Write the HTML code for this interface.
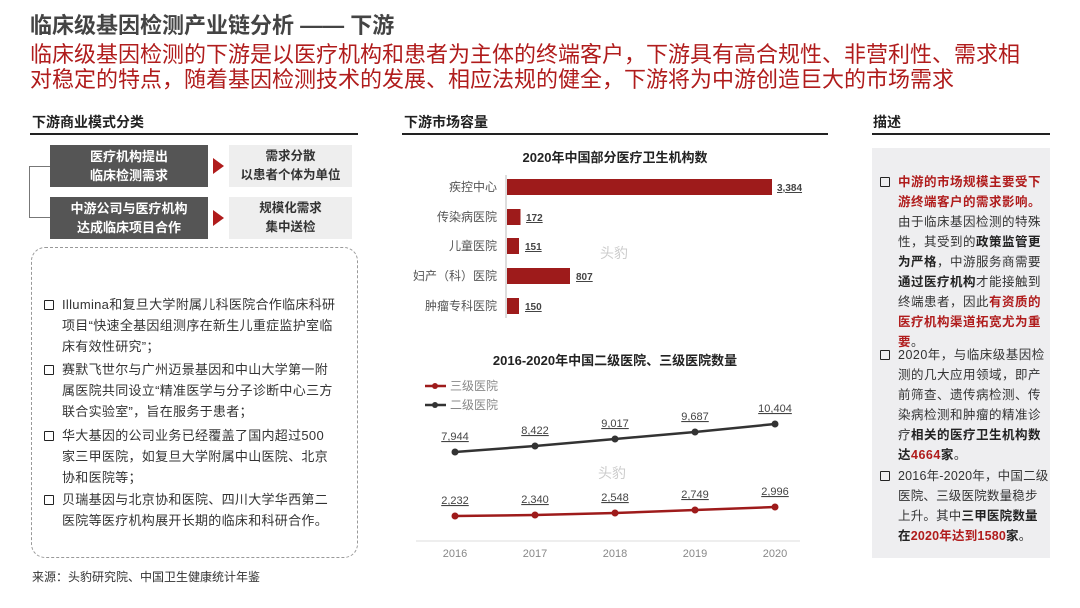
<!DOCTYPE html>
<html><head><meta charset="utf-8"><style>
*{margin:0;padding:0;box-sizing:border-box}
body{width:1080px;height:608px;background:#fff;font-family:"Liberation Sans","Noto Sans CJK SC",sans-serif;position:relative;overflow:hidden;color:#333}
.a{position:absolute}
.h{font-size:14px;font-weight:bold;color:#222}
.ul{height:2px;background:#222}
.dk{background:#555;color:#fff;font-size:13px;text-align:center;line-height:19px;padding-top:2px;font-weight:bold}
.lt{background:#eee;color:#333;font-size:12.5px;text-align:center;line-height:19px;padding-top:2px;font-weight:bold}
.arr{width:0;height:0;border-top:8px solid transparent;border-bottom:8px solid transparent;border-left:11px solid #b01c1c}
.bl{font-size:13px;line-height:21px;color:#333;padding-left:18px;position:absolute;letter-spacing:0.3px;white-space:nowrap}
.bl:before{content:"";position:absolute;left:0;top:6px;width:8px;height:8px;border:1.5px solid #222;border-radius:1px}
.rp{font-size:12.5px;letter-spacing:0.5px;line-height:20px}
.rp:before{top:5px}
.r{color:#b01c1c;font-weight:bold}
.b{font-weight:bold;color:#222}
</style></head><body>
<div class="a" style="left:30px;top:8px;font-size:22px;font-weight:bold;color:#444">临床级基因检测产业链分析 —— 下游</div>
<div class="a" style="left:30px;top:42px;width:1030px;font-size:22px;line-height:25px;color:#b01c1c;white-space:nowrap">临床级基因检测的下游是以医疗机构和患者为主体的终端客户，下游具有高合规性、非营利性、需求相<br>对稳定的特点，随着基因检测技术的发展、相应法规的健全，下游将为中游创造巨大的市场需求</div>

<div class="a h" style="left:32px;top:112px">下游商业模式分类</div>
<div class="a ul" style="left:30px;top:133px;width:328px"></div>
<div class="a h" style="left:404px;top:112px">下游市场容量</div>
<div class="a ul" style="left:402px;top:133px;width:426px"></div>
<div class="a h" style="left:873px;top:112px">描述</div>
<div class="a ul" style="left:872px;top:133px;width:178px"></div>

<div class="a" style="left:29px;top:166px;width:21px;height:52px;border:1.5px solid #777;border-right:none"></div>
<div class="a dk" style="left:50px;top:145px;width:158px;height:42px">医疗机构提出<br>临床检测需求</div>
<div class="a arr" style="left:213px;top:158px"></div>
<div class="a lt" style="left:229px;top:145px;width:123px;height:42px">需求分散<br>以患者个体为单位</div>
<div class="a dk" style="left:50px;top:197px;width:158px;height:42px">中游公司与医疗机构<br>达成临床项目合作</div>
<div class="a arr" style="left:213px;top:210px"></div>
<div class="a lt" style="left:229px;top:197px;width:123px;height:42px">规模化需求<br>集中送检</div>

<div class="a" style="left:31px;top:247px;width:327px;height:311px;border:1.5px dashed #999;border-radius:14px"></div>
<div class="bl" style="left:44px;top:294px">Illumina和复旦大学附属儿科医院合作临床科研<br>项目“快速全基因组测序在新生儿重症监护室临<br>床有效性研究”；</div>
<div class="bl" style="left:44px;top:359px">赛默飞世尔与广州迈景基因和中山大学第一附<br>属医院共同设立“精准医学与分子诊断中心三方<br>联合实验室”，旨在服务于患者；</div>
<div class="bl" style="left:44px;top:425px">华大基因的公司业务已经覆盖了国内超过500<br>家三甲医院，如复旦大学附属中山医院、北京<br>协和医院等；</div>
<div class="bl" style="left:44px;top:489px">贝瑞基因与北京协和医院、四川大学华西第二<br>医院等医疗机构展开长期的临床和科研合作。</div>
<div class="a" style="left:32px;top:568px;font-size:12px;color:#333">来源：头豹研究院、中国卫生健康统计年鉴</div>

<svg class="a" style="left:0;top:0" width="1080" height="608" font-family="Liberation Sans,Noto Sans CJK SC,sans-serif">
<text x="615" y="162" font-size="13" font-weight="bold" text-anchor="middle" fill="#222">2020年中国部分医疗卫生机构数</text>
<g font-size="12" fill="#555" text-anchor="end">
<text x="497" y="191">疾控中心</text><text x="497" y="221">传染病医院</text><text x="497" y="250">儿童医院</text><text x="497" y="280">妇产（科）医院</text><text x="497" y="310">肿瘤专科医院</text></g>
<line x1="506" y1="175" x2="506" y2="318" stroke="#bbb"/>
<g fill="#9e1b1b">
<rect x="507" y="179" width="265" height="16"/><rect x="507" y="209" width="13.5" height="16"/><rect x="507" y="238" width="12" height="16"/><rect x="507" y="268" width="63" height="16"/><rect x="507" y="298" width="12" height="16"/></g>
<g font-size="10" font-weight="bold" fill="#444" text-decoration="underline">
<text x="777" y="191">3,384</text><text x="526" y="221">172</text><text x="525" y="250">151</text><text x="576" y="280">807</text><text x="525" y="310">150</text></g>
<text x="600" y="258" font-size="14" fill="#ccc">头豹</text>

<text x="615" y="365" font-size="13" font-weight="bold" text-anchor="middle" fill="#222">2016-2020年中国二级医院、三级医院数量</text>
<line x1="425" y1="386" x2="446" y2="386" stroke="#9e1b1b" stroke-width="2.5"/><circle cx="435" cy="386" r="3" fill="#9e1b1b"/>
<text x="450" y="390" font-size="12" fill="#888">三级医院</text>
<line x1="425" y1="405" x2="446" y2="405" stroke="#333" stroke-width="2.5"/><circle cx="435" cy="405" r="3" fill="#333"/>
<text x="450" y="409" font-size="12" fill="#888">二级医院</text>
<polyline points="455,452 535,446 615,439 695,432 775,424" fill="none" stroke="#333" stroke-width="2.5"/>
<polyline points="455,516 535,515 615,513 695,510 775,507" fill="none" stroke="#9e1b1b" stroke-width="2.5"/>
<g fill="#333"><circle cx="455" cy="452" r="3.5"/><circle cx="535" cy="446" r="3.5"/><circle cx="615" cy="439" r="3.5"/><circle cx="695" cy="432" r="3.5"/><circle cx="775" cy="424" r="3.5"/></g>
<g fill="#9e1b1b"><circle cx="455" cy="516" r="3.5"/><circle cx="535" cy="515" r="3.5"/><circle cx="615" cy="513" r="3.5"/><circle cx="695" cy="510" r="3.5"/><circle cx="775" cy="507" r="3.5"/></g>
<g font-size="11" fill="#444" text-anchor="middle" text-decoration="underline">
<text x="455" y="440">7,944</text><text x="535" y="434">8,422</text><text x="615" y="427">9,017</text><text x="695" y="420">9,687</text><text x="775" y="412">10,404</text>
<text x="455" y="504">2,232</text><text x="535" y="503">2,340</text><text x="615" y="501">2,548</text><text x="695" y="498">2,749</text><text x="775" y="495">2,996</text></g>
<text x="598" y="478" font-size="14" fill="#ccc">头豹</text>
<line x1="416" y1="541" x2="800" y2="541" stroke="#ddd"/>
<g font-size="11" fill="#888" text-anchor="middle"><text x="455" y="557">2016</text><text x="535" y="557">2017</text><text x="615" y="557">2018</text><text x="695" y="557">2019</text><text x="775" y="557">2020</text></g>
</svg>

<div class="a" style="left:872px;top:148px;width:178px;height:410px;background:#eeeef0"></div>
<div class="bl rp" style="left:880px;top:172px"><span class="r">中游的市场规模主要受下<br>游终端客户的需求影响。</span><br>由于临床基因检测的特殊<br>性，其受到的<span class="b">政策监管更<br>为严格</span>，中游服务商需要<br><span class="b">通过医疗机构</span>才能接触到<br>终端患者，因此<span class="r">有资质的<br>医疗机构渠道拓宽尤为重<br>要</span>。</div>
<div class="bl rp" style="left:880px;top:345px">2020年，与临床级基因检<br>测的几大应用领域，即产<br>前筛查、遗传病检测、传<br>染病检测和肿瘤的精准诊<br>疗<span class="b">相关的医疗卫生机构数<br>达<span class="r">4664</span>家</span>。</div>
<div class="bl rp" style="left:880px;top:466px;letter-spacing:0.2px">2016年-2020年，中国二级<br>医院、三级医院数量稳步<br>上升。其中<span class="b">三甲医院数量<br>在<span class="r">2020年达到1580</span>家</span>。</div>
</body></html>
